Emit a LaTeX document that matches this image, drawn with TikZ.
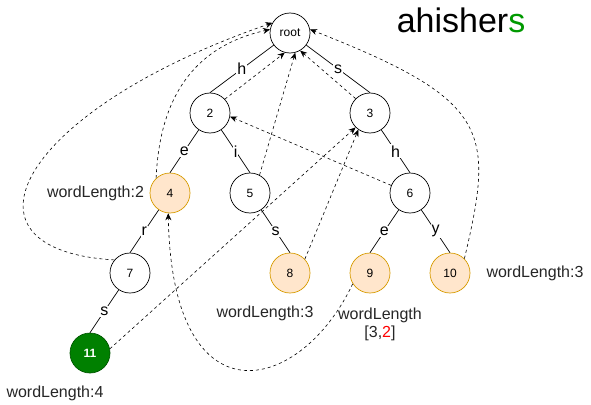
\documentclass[tikz,border=0pt]{standalone}
\usepackage{fontspec}
\setmainfont{Liberation Sans}
\usetikzlibrary{arrows.meta, positioning}
\definecolor{peach}{HTML}{FFE6CC}
\definecolor{amber}{HTML}{D79B00}
\definecolor{leaf}{HTML}{008000}
\definecolor{leafline}{HTML}{005700}
\definecolor{titlegreen}{HTML}{009900}

\begin{document}
\begin{tikzpicture}[x = 1pt, y = -1pt, line width = 0.7pt,
    state/.style = {shape = circle, draw, minimum size = 40pt, inner sep = 0pt, font = \fontsize{12}{14}\selectfont},
    word/.style = {state, fill = peach, draw = amber},
    last/.style = {state, fill = leaf, draw = leafline, text = white, font = \fontsize{12}{14}\selectfont\bfseries},
    letter/.style = {fill = white, inner sep = 1pt, font = \fontsize{16}{18}\selectfont},
    info/.style = {font = \fontsize{16}{18}\selectfont, text = black!85, align = center},
    fail/.style = {line width = 0.6pt, dash pattern = on 3pt off 3pt, -{Stealth[length = 7pt, width = 6pt]}}]
    \useasboundingbox (0,0) rectangle (591,404);

    % trie
    \node[state] (R) at (290,33) {root};
    \node[state] (n2) at (210,113) {2};
    \node[state] (n3) at (370,113) {3};
    \node[word] (n4) at (170,193) {4};
    \node[state] (n5) at (250,193) {5};
    \node[state] (n6) at (410,193) {6};
    \node[state] (n7) at (130,273) {7};
    \node[word] (n8) at (290,273) {8};
    \node[word] (n9) at (370,273) {9};
    \node[word] (n10) at (450,273) {10};
    \node[last] (n11) at (90,353) {11};

    \draw (R) -- node[letter] {h} (n2.north);
    \draw (R) -- node[letter] {s} (n3.north);
    \draw (n2) -- node[letter] {e} (n4.north);
    \draw (n2) -- node[letter] {i} (n5.north);
    \draw (n3) -- node[letter] {h} (n6.north);
    \draw (n4) -- node[letter] {r} (n7.north);
    \draw (n5) -- node[letter] {s} (n8.north);
    \draw (n6) -- node[letter] {e} (n9.north);
    \draw (n6) -- node[letter] {y} (n10.north);
    \draw (n7) -- node[letter] {s} (n11.north);

    % fail links
    \draw[fail] (n2.43) -- (R.255);
    \draw[fail] (n5.62) -- (R.285);
    \draw[fail] (n3.135) -- (R.300);
    \draw[fail] (n4.133) .. controls (160,90) and (200,45) .. (R.170);
    \draw[fail] (n7.140) .. controls (-55,250) and (20,110) .. (R.150);
    \draw[fail] (n10.45) .. controls (495,130) and (490,100) .. (R.10);
    \draw[fail] (n6.158) -- (n2.350);
    \draw[fail] (n8.43) -- (n3.235);
    \draw[fail] (n11.12) -- (n3.225);
    \draw[fail] (n9.212) .. controls (300,395) and (172,425) .. (n4.265);

    % word lengths
    \node[info, left = 2pt of n4] (L4) {wordLength:2};
    \node[info] (L8) at (265,313) {wordLength:3};
    \node[info] (L9) at (380,324) {wordLength\\{}[3,\textcolor{red}{2}]};
    \node[info] (L10) at (535,273) {wordLength:3};
    \node[info] (L11) at (55,393) {wordLength:4};

    \node[font = \fontsize{34}{36}\selectfont, anchor = base] (T) at (461,33) {ahisher\textcolor{titlegreen}{s}};
\end{tikzpicture}
\end{document}
